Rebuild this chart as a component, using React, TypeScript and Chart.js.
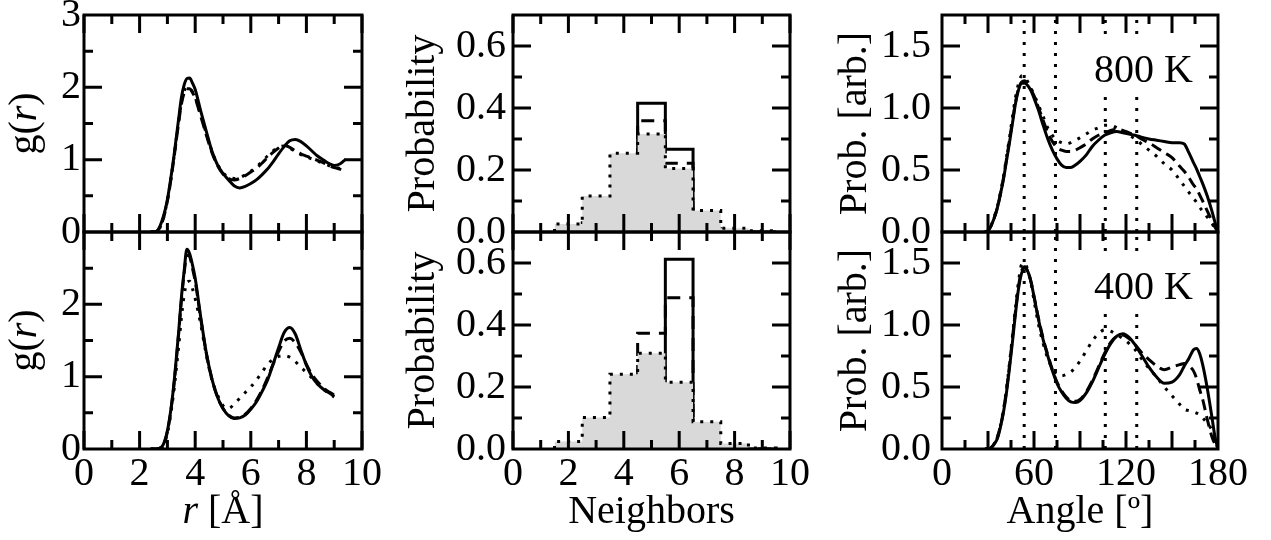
import React, { useEffect, useRef } from "react";
import { Chart, registerables } from "chart.js";

Chart.register(...registerables);

const FONT_FAMILY = "'Liberation Serif', 'Times New Roman', Times, serif";
const FONT_SIZE = 40;
const CW = 1271;
const CH = 540;

// ---------------- data: radial distribution g(r) ----------------
const grRTop = [2.4, 2.6, 2.8, 3.0, 3.2, 3.4, 3.5, 3.6, 3.7, 3.8, 3.9, 4.0, 4.2, 4.4, 4.6, 4.8, 5.0, 5.2, 5.4, 5.6, 5.8, 6.0, 6.2, 6.4, 6.6, 6.8, 7.0, 7.2, 7.4, 7.6, 7.8, 8.0, 8.2, 8.4, 8.6, 8.8, 9.0, 9.2, 9.4];
const grTopSolid = [0, 0.01, 0.15, 0.45, 0.95, 1.55, 1.85, 2.03, 2.12, 2.13, 2.06, 1.97, 1.67, 1.39, 1.12, 0.93, 0.81, 0.72, 0.64, 0.61, 0.63, 0.67, 0.72, 0.79, 0.87, 0.97, 1.08, 1.18, 1.26, 1.28, 1.25, 1.19, 1.12, 1.05, 1.0, 0.95, 0.92, 0.94, 1.0];
const grTopDashed = [0, 0.01, 0.12, 0.43, 0.92, 1.5, 1.76, 1.92, 1.98, 1.98, 1.93, 1.85, 1.6, 1.34, 1.1, 0.92, 0.8, 0.74, 0.72, 0.74, 0.78, 0.83, 0.88, 0.95, 1.03, 1.1, 1.16, 1.2, 1.17, 1.12, 1.08, 1.05, 1.02, 0.99, 0.96, 0.92, 0.89, 0.87, 0.84];
const grTopDotted = [0, 0.01, 0.12, 0.44, 0.93, 1.52, 1.78, 1.94, 2.0, 1.99, 1.94, 1.86, 1.62, 1.36, 1.12, 0.94, 0.82, 0.76, 0.74, 0.75, 0.79, 0.84, 0.9, 0.97, 1.05, 1.12, 1.17, 1.19, 1.16, 1.11, 1.07, 1.04, 1.01, 0.98, 0.95, 0.92, 0.9, 0.88, 0.86];

const grRBot = [2.4, 2.6, 2.8, 3.0, 3.2, 3.4, 3.5, 3.6, 3.7, 3.8, 3.9, 4.0, 4.2, 4.4, 4.6, 4.8, 5.0, 5.2, 5.4, 5.6, 5.8, 6.0, 6.2, 6.4, 6.6, 6.8, 7.0, 7.2, 7.4, 7.6, 7.8, 8.0, 8.2, 8.4, 8.6, 8.8, 9.0];
const grBotSolid = [0, 0, 0.03, 0.25, 0.78, 1.6, 2.08, 2.45, 2.76, 2.7, 2.55, 2.36, 1.82, 1.33, 0.97, 0.72, 0.56, 0.46, 0.42, 0.43, 0.47, 0.55, 0.65, 0.79, 0.95, 1.17, 1.4, 1.61, 1.68, 1.59, 1.37, 1.16, 1.0, 0.9, 0.83, 0.78, 0.73];
const grBotDashed = [0, 0, 0.03, 0.24, 0.76, 1.57, 2.04, 2.42, 2.68, 2.66, 2.5, 2.32, 1.8, 1.32, 0.97, 0.72, 0.56, 0.47, 0.43, 0.44, 0.48, 0.56, 0.67, 0.81, 0.98, 1.17, 1.35, 1.49, 1.53, 1.47, 1.34, 1.17, 1.03, 0.93, 0.85, 0.79, 0.75];
const grBotDotted = [0, 0, 0.02, 0.22, 0.7, 1.4, 1.8, 2.12, 2.3, 2.32, 2.22, 2.08, 1.72, 1.3, 0.96, 0.75, 0.6, 0.56, 0.62, 0.7, 0.78, 0.86, 0.95, 1.06, 1.17, 1.24, 1.28, 1.29, 1.27, 1.21, 1.13, 1.06, 0.98, 0.9, 0.83, 0.77, 0.72];

// ---------------- data: coordination histograms ----------------
const neighborBins = [2, 3, 4, 5, 6, 7, 8, 9];
const histTopSolid = [0, 0.03, 0.1, 0.415, 0.267, 0.01, 0, 0];
const histTopDashed = [0, 0.03, 0.1, 0.359, 0.222, 0.01, 0, 0];
const histTopDotted = [0.026, 0.116, 0.254, 0.316, 0.205, 0.069, 0.012, 0.004];
const histBotSolid = [0, 0, 0.02, 0.215, 0.612, 0.01, 0, 0];
const histBotDashed = [0, 0.01, 0.08, 0.373, 0.488, 0.01, 0, 0];
const histBotDotted = [0.024, 0.102, 0.241, 0.309, 0.215, 0.088, 0.018, 0.003];

// ---------------- data: bond-angle distributions ----------------
const angGrid = [28, 30, 32, 34, 36, 38, 40, 42, 44, 46, 48, 50, 52, 54, 56, 58, 60, 63, 66, 69, 72, 75, 78, 81, 84, 87, 90, 94, 98, 102, 106, 110, 114, 118, 122, 126, 130, 135, 140, 145, 150, 155, 158, 161, 164, 166, 168, 170, 173, 176, 178, 180];
const angTopSolid = [0, 0.01, 0.05, 0.11, 0.19, 0.3, 0.42, 0.57, 0.72, 0.88, 1.04, 1.15, 1.2, 1.2, 1.18, 1.14, 1.08, 0.98, 0.86, 0.75, 0.66, 0.59, 0.54, 0.52, 0.52, 0.54, 0.57, 0.62, 0.69, 0.74, 0.78, 0.8, 0.81, 0.8, 0.79, 0.78, 0.765, 0.75, 0.74, 0.73, 0.72, 0.72, 0.71, 0.64, 0.56, 0.51, 0.45, 0.39, 0.29, 0.17, 0.08, 0];
const angTopDashed = [0, 0.01, 0.05, 0.11, 0.19, 0.3, 0.43, 0.58, 0.74, 0.9, 1.05, 1.16, 1.21, 1.22, 1.19, 1.15, 1.1, 1.0, 0.9, 0.8, 0.73, 0.68, 0.66, 0.65, 0.65, 0.66, 0.68, 0.71, 0.75, 0.78, 0.8, 0.82, 0.83, 0.82, 0.8, 0.78, 0.75, 0.72, 0.68, 0.64, 0.6, 0.53, 0.49, 0.44, 0.38, 0.35, 0.3, 0.25, 0.17, 0.09, 0.04, 0];
const angTopDotted = [0, 0.01, 0.05, 0.12, 0.2, 0.31, 0.44, 0.6, 0.76, 0.93, 1.09, 1.2, 1.26, 1.25, 1.21, 1.16, 1.11, 1.02, 0.93, 0.84, 0.78, 0.74, 0.72, 0.71, 0.72, 0.74, 0.76, 0.79, 0.82, 0.84, 0.86, 0.86, 0.84, 0.81, 0.78, 0.75, 0.71, 0.66, 0.61, 0.55, 0.5, 0.42, 0.37, 0.32, 0.27, 0.24, 0.2, 0.17, 0.12, 0.07, 0.03, 0];
const angBotSolid = [0, 0, 0.01, 0.04, 0.08, 0.17, 0.29, 0.45, 0.65, 0.87, 1.1, 1.3, 1.42, 1.46, 1.43, 1.35, 1.23, 1.04, 0.88, 0.75, 0.63, 0.53, 0.46, 0.41, 0.38, 0.375, 0.39, 0.45, 0.54, 0.65, 0.76, 0.85, 0.91, 0.93, 0.9, 0.84, 0.76, 0.66, 0.58, 0.53, 0.54, 0.6, 0.67, 0.73, 0.8, 0.81, 0.77, 0.68, 0.49, 0.26, 0.1, 0];
const angBotDashed = [0, 0, 0.01, 0.04, 0.09, 0.18, 0.3, 0.47, 0.67, 0.9, 1.12, 1.32, 1.44, 1.47, 1.43, 1.35, 1.23, 1.05, 0.89, 0.76, 0.64, 0.54, 0.47, 0.42, 0.39, 0.385, 0.4, 0.46, 0.55, 0.66, 0.77, 0.86, 0.91, 0.92, 0.89, 0.84, 0.78, 0.72, 0.67, 0.64, 0.66, 0.68, 0.69, 0.67, 0.63, 0.57, 0.48, 0.4, 0.24, 0.1, 0.04, 0];
const angBotDotted = [0, 0, 0.01, 0.04, 0.09, 0.18, 0.31, 0.48, 0.69, 0.92, 1.15, 1.36, 1.49, 1.5, 1.44, 1.34, 1.2, 1.0, 0.85, 0.73, 0.65, 0.6, 0.59, 0.6, 0.62, 0.66, 0.71, 0.79, 0.87, 0.93, 0.96, 0.95, 0.92, 0.89, 0.85, 0.8, 0.73, 0.65, 0.58, 0.5, 0.43, 0.36, 0.32, 0.31, 0.3, 0.29, 0.28, 0.25, 0.21, 0.15, 0.07, 0];
const refAngles = [53.6, 74, 106.5, 127];

// ---------------- ticks ----------------
const grXTicks = [0, 2, 4, 6, 8, 10];
const grXLabels = ["0", "2", "4", "6", "8", "10"];
const grXMinor = [1, 3, 5, 7, 9];
const grYTicksTop = [0, 1, 2, 3];
const grYLabelsTop = ["0", "1", "2", "3"];
const grYTicksBot = [0, 1, 2];
const grYLabelsBot = ["0", "1", "2"];
const grYMajor = [1, 2];
const grYMinor = [0.5, 1.5, 2.5];

const nbXTicks = [0, 2, 4, 6, 8, 10];
const nbXLabels = ["0", "2", "4", "6", "8", "10"];
const nbXMinor = [1, 3, 5, 7, 9];
const nbYTicks = [0, 0.2, 0.4, 0.6];
const nbYLabels = ["0.0", "0.2", "0.4", "0.6"];
const nbYMajor = [0.2, 0.4, 0.6];
const nbYMinor = [0.1, 0.3, 0.5];

const anXTicks = [0, 60, 120, 180];
const anXLabels = ["0", "60", "120", "180"];
const anXMajor = [30, 60, 90, 120, 150];
const anXMinor = [15, 45, 75, 105, 135, 165];
const anYTicks = [0, 0.5, 1.0, 1.5];
const anYLabels = ["0.0", "0.5", "1.0", "1.5"];
const anYMajor = [0.5, 1.0, 1.5];
const anYMinor = [0.25, 0.75, 1.25];

// ---------------- helpers ----------------
const xy = (xs: number[], ys: number[]) => xs.map((x, i) => ({ x, y: ys[i] }));
const histPoints = (bins: number[], vals: number[]) => {
  const pts: { x: number; y: number }[] = [{ x: bins[0] - 0.5, y: 0 }];
  bins.forEach((b, i) => {
    pts.push({ x: b - 0.5, y: vals[i] }, { x: b + 0.5, y: vals[i] });
  });
  pts.push({ x: bins[bins.length - 1] + 0.5, y: 0 });
  return pts;
};
const vlines = (xs: number[], yTop: number) =>
  xs.map((x) => ({
    data: [{ x, y: 0 }, { x, y: yTop }],
    borderColor: "#000",
    borderWidth: 3,
    borderDash: [3, 8],
    pointRadius: 0,
    fill: false,
    order: 5,
  }));

const SOLID = { borderColor: "#000", borderWidth: 3, borderDash: [] as number[], pointRadius: 0, fill: false };
const DASHED = { borderColor: "#000", borderWidth: 3, borderDash: [11, 6], pointRadius: 0, fill: false };
const DOTTED = { borderColor: "#000", borderWidth: 3, borderDash: [3, 7], pointRadius: 0, fill: false };
const CURVE = { cubicInterpolationMode: "monotone" as const };

type Part = { t: string; italic?: boolean };

interface Panel {
  box: { left: number; right: number; top: number; bottom: number };
  yAxisWidth: number;
  xAxisHeight: number;
  xRange: [number, number];
  yRange: [number, number];
  xTicks: number[];
  xLabels: string[];
  yTicks: number[];
  yLabels: string[];
  xMajor: number[];
  xMinor: number[];
  yMajor: number[];
  yMinor: number[];
  labelPad: number;
  yTitle?: string;
  xTitle?: string;
  richY?: { parts: Part[]; cx: number };
  richX?: { parts: Part[] };
  note?: string;
  datasets: any[];
}

const COL1 = { left: 84, right: 362 };
const COL2 = { left: 513, right: 790 };
const COL3 = { left: 942, right: 1218 };
const ROW1 = { top: 15, bottom: 232 };
const ROW2 = { top: 232, bottom: 449 };
const X_AXIS_H = 87;

const gTitle: Part[] = [{ t: "g(" }, { t: "r", italic: true }, { t: ")" }];
const rTitle: Part[] = [{ t: "r", italic: true }, { t: " [Å]" }];

const panels: Panel[] = [
  {
    box: { ...COL1, ...ROW1 }, yAxisWidth: 84, xAxisHeight: 0,
    xRange: [0, 10], yRange: [0, 3],
    xTicks: grXTicks, xLabels: grXLabels, yTicks: grYTicksTop, yLabels: grYLabelsTop,
    xMajor: grXTicks, xMinor: grXMinor, yMajor: grYMajor, yMinor: grYMinor, labelPad: 3,
    richY: { parts: gTitle, cx: 25 },
    datasets: [
      { ...SOLID, ...CURVE, data: xy(grRTop, grTopSolid), order: 0 },
      { ...DASHED, ...CURVE, data: xy(grRTop, grTopDashed), order: 1 },
      { ...DOTTED, ...CURVE, data: xy(grRTop, grTopDotted), order: 2 },
    ],
  },
  {
    box: { ...COL1, ...ROW2 }, yAxisWidth: 84, xAxisHeight: X_AXIS_H,
    xRange: [0, 10], yRange: [0, 3],
    xTicks: grXTicks, xLabels: grXLabels, yTicks: grYTicksBot, yLabels: grYLabelsBot,
    xMajor: grXTicks, xMinor: grXMinor, yMajor: grYMajor, yMinor: grYMinor, labelPad: 3,
    richY: { parts: gTitle, cx: 25 },
    richX: { parts: rTitle },
    datasets: [
      { ...SOLID, ...CURVE, data: xy(grRBot, grBotSolid), order: 0 },
      { ...DASHED, ...CURVE, data: xy(grRBot, grBotDashed), order: 1 },
      { ...DOTTED, ...CURVE, data: xy(grRBot, grBotDotted), order: 2 },
    ],
  },
  {
    box: { ...COL2, ...ROW1 }, yAxisWidth: 114, xAxisHeight: 0,
    xRange: [0, 10], yRange: [0, 0.7],
    xTicks: nbXTicks, xLabels: nbXLabels, yTicks: nbYTicks, yLabels: nbYLabels,
    xMajor: nbXTicks, xMinor: nbXMinor, yMajor: nbYMajor, yMinor: nbYMinor, labelPad: 7,
    yTitle: "Probability",
    datasets: [
      { ...DOTTED, data: histPoints(neighborBins, histTopDotted), fill: "origin", backgroundColor: "#d9d9d9", order: 0 },
      { ...DASHED, borderDash: [13, 9], data: histPoints(neighborBins, histTopDashed), order: 1 },
      { ...SOLID, data: histPoints(neighborBins, histTopSolid), order: 2 },
    ],
  },
  {
    box: { ...COL2, ...ROW2 }, yAxisWidth: 114, xAxisHeight: X_AXIS_H,
    xRange: [0, 10], yRange: [0, 0.7],
    xTicks: nbXTicks, xLabels: nbXLabels, yTicks: nbYTicks, yLabels: nbYLabels,
    xMajor: nbXTicks, xMinor: nbXMinor, yMajor: nbYMajor, yMinor: nbYMinor, labelPad: 7,
    yTitle: "Probability", xTitle: "Neighbors",
    datasets: [
      { ...DOTTED, data: histPoints(neighborBins, histBotDotted), fill: "origin", backgroundColor: "#d9d9d9", order: 0 },
      { ...DASHED, borderDash: [13, 9], data: histPoints(neighborBins, histBotDashed), order: 1 },
      { ...SOLID, data: histPoints(neighborBins, histBotSolid), order: 2 },
    ],
  },
  {
    box: { ...COL3, ...ROW1 }, yAxisWidth: 111, xAxisHeight: 0,
    xRange: [0, 180], yRange: [0, 1.75],
    xTicks: anXTicks, xLabels: anXLabels, yTicks: anYTicks, yLabels: anYLabels,
    xMajor: anXMajor, xMinor: anXMinor, yMajor: anYMajor, yMinor: anYMinor, labelPad: 11,
    yTitle: "Prob. [arb.]", note: "800 K",
    datasets: [
      { ...SOLID, ...CURVE, data: xy(angGrid, angTopSolid), order: 0 },
      { ...DASHED, ...CURVE, data: xy(angGrid, angTopDashed), order: 1 },
      { ...DOTTED, ...CURVE, data: xy(angGrid, angTopDotted), order: 2 },
      ...vlines(refAngles, 1.75),
    ],
  },
  {
    box: { ...COL3, ...ROW2 }, yAxisWidth: 111, xAxisHeight: X_AXIS_H,
    xRange: [0, 180], yRange: [0, 1.75],
    xTicks: anXTicks, xLabels: anXLabels, yTicks: anYTicks, yLabels: anYLabels,
    xMajor: anXMajor, xMinor: anXMinor, yMajor: anYMajor, yMinor: anYMinor, labelPad: 11,
    yTitle: "Prob. [arb.]", xTitle: "Angle [º]", note: "400 K",
    datasets: [
      { ...SOLID, ...CURVE, data: xy(angGrid, angBotSolid), order: 0 },
      { ...DASHED, ...CURVE, data: xy(angGrid, angBotDashed), order: 1 },
      { ...DOTTED, ...CURVE, data: xy(angGrid, angBotDotted), order: 2 },
      ...vlines(refAngles, 1.75),
    ],
  },
];

const fontStr = (italic?: boolean) => `${italic ? "italic " : ""}${FONT_SIZE}px ${FONT_FAMILY}`;

function drawRich(ctx: CanvasRenderingContext2D, parts: Part[], cx: number, cy: number, rotate: boolean) {
  ctx.save();
  ctx.translate(cx, cy);
  if (rotate) ctx.rotate(-Math.PI / 2);
  ctx.fillStyle = "#000";
  ctx.textBaseline = "middle";
  ctx.textAlign = "left";
  const widths = parts.map((p) => {
    ctx.font = fontStr(p.italic);
    return ctx.measureText(p.t).width;
  });
  const total = widths.reduce((a, b) => a + b, 0);
  let x = -total / 2;
  parts.forEach((p, i) => {
    ctx.font = fontStr(p.italic);
    ctx.fillText(p.t, x, 0);
    x += widths[i];
  });
  ctx.restore();
}

function decorPlugin(p: Panel) {
  return {
    id: "decor",
    afterDatasetsDraw(chart: any) {
      if (!p.note) return;
      const { ctx, chartArea: a } = chart;
      ctx.save();
      ctx.font = fontStr(false);
      const w = ctx.measureText(p.note).width;
      const rx = a.right - 25;
      const by = a.top + 67;
      ctx.fillStyle = "#fff";
      ctx.fillRect(rx - w - 5, by - 40, w + 9, 48);
      ctx.fillStyle = "#000";
      ctx.textAlign = "right";
      ctx.textBaseline = "alphabetic";
      ctx.fillText(p.note, rx, by);
      ctx.restore();
    },
    afterDraw(chart: any) {
      const { ctx, chartArea: a, scales } = chart;
      const xs = scales.x;
      const ys = scales.y;
      ctx.save();
      ctx.strokeStyle = "#000";
      ctx.lineWidth = 3;
      ctx.lineCap = "butt";
      ctx.setLineDash([]);
      ctx.beginPath();
      const xt = (vals: number[], len: number) =>
        vals.forEach((v) => {
          const px = xs.getPixelForValue(v);
          ctx.moveTo(px, a.bottom);
          ctx.lineTo(px, a.bottom - len);
          ctx.moveTo(px, a.top);
          ctx.lineTo(px, a.top + len);
        });
      const yt = (vals: number[], len: number) =>
        vals.forEach((v) => {
          const py = ys.getPixelForValue(v);
          ctx.moveTo(a.left, py);
          ctx.lineTo(a.left + len, py);
          ctx.moveTo(a.right, py);
          ctx.lineTo(a.right - len, py);
        });
      xt(p.xMajor, 18);
      xt(p.xMinor, 9);
      yt(p.yMajor, 18);
      yt(p.yMinor, 9);
      ctx.stroke();
      ctx.strokeRect(a.left, a.top, a.right - a.left, a.bottom - a.top);
      ctx.restore();

      if (p.richY) drawRich(ctx, p.richY.parts, p.richY.cx, (a.top + a.bottom) / 2, true);
      if (p.richX) drawRich(ctx, p.richX.parts, (a.left + a.right) / 2, a.bottom + X_AXIS_H - 24, false);
    },
  };
}

function buildConfig(p: Panel): any {
  const font = { family: FONT_FAMILY, size: FONT_SIZE, lineHeight: 1.2 };
  const padLeft = p.box.left - p.yAxisWidth;
  const padBottom = CH - p.box.bottom - p.xAxisHeight;
  return {
    type: "line",
    data: { datasets: p.datasets },
    options: {
      animation: false,
      responsive: false,
      devicePixelRatio: 1,
      events: [],
      layout: { padding: { left: padLeft, right: CW - p.box.right, top: p.box.top, bottom: padBottom } },
      plugins: { legend: { display: false }, tooltip: { enabled: false } },
      elements: { point: { radius: 0 }, line: { tension: 0 } },
      scales: {
        x: {
          type: "linear",
          min: p.xRange[0],
          max: p.xRange[1],
          display: p.xAxisHeight > 0,
          grid: { display: false, drawTicks: false },
          border: { display: false },
          afterBuildTicks: (s: any) => {
            s.ticks = p.xTicks.map((v) => ({ value: v }));
          },
          afterFit: (s: any) => {
            s.height = p.xAxisHeight;
            s.paddingLeft = 0;
            s.paddingRight = 0;
          },
          ticks: {
            font,
            color: "#000",
            padding: 1,
            maxRotation: 0,
            minRotation: 0,
            autoSkip: false,
            callback: (_v: any, i: number) => p.xLabels[i],
          },
          title: { display: !!p.xTitle, text: p.xTitle || "", font, color: "#000", padding: 0 },
        },
        y: {
          type: "linear",
          min: p.yRange[0],
          max: p.yRange[1],
          grid: { display: false, drawTicks: false },
          border: { display: false },
          afterBuildTicks: (s: any) => {
            s.ticks = p.yTicks.map((v) => ({ value: v }));
          },
          afterFit: (s: any) => {
            s.width = p.yAxisWidth;
            s.paddingTop = 0;
            s.paddingBottom = 0;
          },
          ticks: {
            font,
            color: "#000",
            padding: p.labelPad,
            autoSkip: false,
            callback: (_v: any, i: number) => p.yLabels[i],
          },
          title: { display: !!p.yTitle, text: p.yTitle || "", font, color: "#000", padding: 0 },
        },
      },
    },
    plugins: [decorPlugin(p)],
  };
}

function PanelChart({ panel }: { panel: Panel }) {
  const ref = useRef<HTMLCanvasElement>(null);
  useEffect(() => {
    if (!ref.current) return;
    const chart = new Chart(ref.current, buildConfig(panel));
    return () => chart.destroy();
  }, [panel]);
  return (
    <canvas
      ref={ref}
      width={CW}
      height={CH}
      style={{ position: "absolute", left: 0, top: 0, width: CW, height: CH }}
    />
  );
}

export default function App() {
  return (
    <div style={{ position: "fixed", left: 0, top: 0, width: CW, height: CH, background: "#fff", overflow: "hidden" }}>
      {panels.map((p, i) => (
        <PanelChart key={i} panel={p} />
      ))}
    </div>
  );
}
